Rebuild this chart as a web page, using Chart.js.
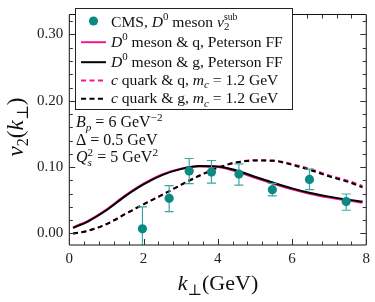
<!DOCTYPE html>
<html>
<head>
<meta charset="utf-8">
<script src="https://cdn.jsdelivr.net/npm/chart.js@4/dist/chart.umd.min.js"></script>
<style>
  html, body { margin: 0; padding: 0; background: #fff; }
  #wrap { width: 375px; height: 302px; }
</style>
</head>
<body>
<div id="wrap"><canvas id="c" width="375" height="302"></canvas></div>
<script>
// ---- data ----
const curveK = [0.1, 0.5, 1.0, 1.5, 2.0, 2.5, 3.0, 3.5, 4.0, 4.5, 5.0, 5.5, 6.0, 6.5, 7.0, 7.5, 7.9];
const d0QuarkPeterson = [0.0092, 0.019, 0.036, 0.057, 0.075, 0.089, 0.0975, 0.101, 0.1, 0.0935, 0.084, 0.075, 0.0665, 0.0595, 0.054, 0.0495, 0.0465];
const d0GluonPeterson = [0.0085, 0.018, 0.035, 0.056, 0.074, 0.088, 0.097, 0.1015, 0.101, 0.095, 0.0855, 0.0765, 0.068, 0.061, 0.0555, 0.051, 0.048];
const cQuarkQ = [0.0, 0.004, 0.014, 0.029, 0.044, 0.058, 0.073, 0.087, 0.099, 0.107, 0.1103, 0.11, 0.1045, 0.097, 0.0875, 0.0795, 0.0715];
const cQuarkG = [0.0, 0.004, 0.014, 0.029, 0.044, 0.058, 0.073, 0.087, 0.099, 0.107, 0.11, 0.1095, 0.1035, 0.0955, 0.086, 0.078, 0.0695];
const cmsK = [1.97, 2.69, 3.23, 3.83, 4.57, 5.47, 6.47, 7.46];
const cmsV2 = [0.007, 0.053, 0.094, 0.0925, 0.0895, 0.066, 0.0815, 0.048];
const cmsErrLo = [-0.03, 0.033, 0.075, 0.076, 0.073, 0.0565, 0.066, 0.035];
const cmsErrHi = [0.040, 0.072, 0.113, 0.110, 0.105, 0.0755, 0.097, 0.0595];
const xTicks = [0, 2, 4, 6, 8];
const yTicks = [0.0, 0.1, 0.2, 0.3];
const xMinorStep = 0.4;
const yMinorStep = 0.02;

const TEAL = '#0b8a84';
const TEAL_ERR = '#3aa8a2';
const PINK = '#f21a8c';
const FONT = '"Liberation Serif", "DejaVu Serif", serif';

function pts(xs, ys) { return xs.map((x, i) => ({ x: x, y: ys[i] })); }

// rich text helper: runs of {t, i:italic, s:'sup'|'sub', k:keep x (stack), sc:scale}
function drawRich(ctx, runs, x, y, size, align) {
  let total = 0;
  const items = runs.map(r => {
    const sc = r.sc || (r.s ? 0.7 : 1);
    const s = size * sc;
    const font = (r.i ? 'italic ' : '') + s.toFixed(2) + 'px ' + FONT;
    ctx.font = font;
    const w = ctx.measureText(r.t).width;
    const dy = r.s === 'sup' ? -size * 0.4 : (r.s === 'sub' ? size * 0.22 : 0);
    const adv = r.k ? 0 : w + (r.g || 0);
    total += adv;
    return { t: r.t, font, dy, adv };
  });
  let cx = align === 'center' ? x - total / 2 : (align === 'right' ? x - total : x);
  ctx.textAlign = 'left';
  ctx.textBaseline = 'alphabetic';
  for (const it of items) {
    ctx.font = it.font;
    ctx.fillText(it.t, cx, y + it.dy);
    cx += it.adv;
  }
}

const decorPlugin = {
  id: 'decor',
  beforeDatasetDraw(chart, args) {
    if (args.index !== 0) return;
    const ctx = chart.ctx, xs = chart.scales.x, ys = chart.scales.y, a = chart.chartArea;
    ctx.save();
    ctx.beginPath();
    ctx.rect(a.left, a.top, a.right - a.left, a.bottom - a.top);
    ctx.clip();
    ctx.strokeStyle = TEAL_ERR;
    ctx.lineWidth = 1.2;
    cmsK.forEach((k, i) => {
      const px = xs.getPixelForValue(k);
      const lo = ys.getPixelForValue(cmsErrLo[i]);
      const hi = ys.getPixelForValue(cmsErrHi[i]);
      ctx.beginPath();
      ctx.moveTo(px, lo); ctx.lineTo(px, hi);
      ctx.moveTo(px - 4.5, hi); ctx.lineTo(px + 4.5, hi);
      ctx.moveTo(px - 4.5, lo); ctx.lineTo(px + 4.5, lo);
      ctx.stroke();
    });
    ctx.restore();
  },
  afterDraw(chart) {
    const ctx = chart.ctx, xs = chart.scales.x, ys = chart.scales.y, a = chart.chartArea;
    ctx.save();
    // frame
    ctx.strokeStyle = '#111';
    ctx.lineWidth = 1;
    ctx.beginPath();
    ctx.moveTo(a.left, a.top - 0.5); ctx.lineTo(a.left, a.bottom);
    ctx.lineTo(a.right, a.bottom); ctx.lineTo(a.right, a.top - 0.5);
    ctx.moveTo(a.left, a.top - 0.5); ctx.lineTo(a.right, a.top - 0.5);
    ctx.stroke();
    // ticks (inward, all sides)
    ctx.strokeStyle = '#333';
    ctx.beginPath();
    for (let v = xs.min; v <= xs.max + 1e-9; v += xMinorStep) {
      const major = xTicks.some(t => Math.abs(t - v) < 1e-6);
      const L = major ? 6 : 3.5;
      const px = Math.round(xs.getPixelForValue(v)) + 0.5;
      ctx.moveTo(px, a.bottom); ctx.lineTo(px, a.bottom - L);
      ctx.moveTo(px, a.top); ctx.lineTo(px, a.top + L);
    }
    for (let v = 0; v <= ys.max + 1e-9; v += yMinorStep) {
      const major = yTicks.some(t => Math.abs(t - v) < 1e-6);
      const L = major ? 6 : 3.5;
      const py = Math.round(ys.getPixelForValue(v)) + 0.5;
      ctx.moveTo(a.left, py); ctx.lineTo(a.left + L, py);
      ctx.moveTo(a.right, py); ctx.lineTo(a.right - L, py);
    }
    ctx.stroke();

    // legend
    const lx = 75.5, ly = 8.5, lw = 217, lh = 101;
    ctx.fillStyle = '#fff';
    ctx.fillRect(lx, ly, lw, lh);
    ctx.strokeStyle = '#222';
    ctx.lineWidth = 1;
    ctx.strokeRect(lx, ly, lw, lh);
    const sx0 = 81, sx1 = 106, tx = 111;
    const base = [26.7, 46.7, 66.7, 85, 103.3];
    ctx.fillStyle = TEAL;
    ctx.beginPath(); ctx.arc((sx0 + sx1) / 2, 21, 4.6, 0, Math.PI * 2); ctx.fill();
    const samples = [
      { c: PINK, d: [] }, { c: '#000', d: [] }, { c: PINK, d: [5, 3.5] }, { c: '#000', d: [5, 3.5] }
    ];
    samples.forEach((s, i) => {
      ctx.strokeStyle = s.c; ctx.lineWidth = 2; ctx.setLineDash(s.d);
      const yy = base[i + 1] - 4.5;
      ctx.beginPath(); ctx.moveTo(sx0, yy); ctx.lineTo(sx1, yy); ctx.stroke();
    });
    ctx.setLineDash([]);
    ctx.fillStyle = '#111';
    const LS = 15.6;
    drawRich(ctx, [{ t: 'CMS, ' }, { t: 'D', i: 1 }, { t: '0', s: 'sup' }, { t: ' meson ' }, { t: 'v', i: 1 },
      { t: '2', s: 'sub', k: 1 }, { t: 'sub', s: 'sup', sc: 0.62 }], tx, base[0], LS, 'left');
    drawRich(ctx, [{ t: 'D', i: 1 }, { t: '0', s: 'sup' }, { t: ' meson & q, Peterson FF' }], tx, base[1], LS, 'left');
    drawRich(ctx, [{ t: 'D', i: 1 }, { t: '0', s: 'sup' }, { t: ' meson & g, Peterson FF' }], tx, base[2], LS, 'left');
    drawRich(ctx, [{ t: 'c', i: 1 }, { t: ' quark & q, ' }, { t: 'm', i: 1 }, { t: 'c', i: 1, s: 'sub' }, { t: ' = 1.2 GeV' }], tx, base[3], LS, 'left');
    drawRich(ctx, [{ t: 'c', i: 1 }, { t: ' quark & g, ' }, { t: 'm', i: 1 }, { t: 'c', i: 1, s: 'sub' }, { t: ' = 1.2 GeV' }], tx, base[4], LS, 'left');

    // parameter annotations
    const AS = 16;
    drawRich(ctx, [{ t: 'B', i: 1 }, { t: 'p', i: 1, s: 'sub' }, { t: ' = 6 GeV' }, { t: '\u22122', s: 'sup' }], 76, 127, AS, 'left');
    drawRich(ctx, [{ t: '\u0394 = 0.5 GeV' }], 76, 144.5, AS, 'left');
    drawRich(ctx, [{ t: 'Q', i: 1 }, { t: 's', i: 1, s: 'sub', k: 1 }, { t: '2', s: 'sup' }, { t: ' = 5 GeV' }, { t: '2', s: 'sup' }], 76, 162, AS, 'left');

    // axis titles
    ctx.fillStyle = '#111';
    drawRich(ctx, [{ t: 'k', i: 1 }, { t: '\u22a5', s: 'sub' }, { t: '(GeV)' }], 218, 290, 22, 'center');
    ctx.save();
    ctx.translate(23, 127);
    ctx.rotate(-Math.PI / 2);
    drawRich(ctx, [{ t: 'v', i: 1 }, { t: '2', s: 'sub' }, { t: '(' }, { t: 'k', i: 1 }, { t: '\u22a5', s: 'sub' }, { t: ')' }], 0, 0, 23, 'center');
    ctx.restore();
    ctx.restore();
  }
};

new Chart(document.getElementById('c'), {
  type: 'line',
  data: {
    datasets: [
      { label: 'CMS, D0 meson v2sub', data: pts(cmsK, cmsV2), showLine: false, pointRadius: 4.6,
        pointBackgroundColor: TEAL, pointBorderWidth: 0, backgroundColor: TEAL },
      { label: 'D0 meson & g, Peterson FF', data: pts(curveK, d0GluonPeterson), borderColor: '#000', borderWidth: 2,
        pointRadius: 0, cubicInterpolationMode: 'monotone', fill: false },
      { label: 'D0 meson & q, Peterson FF', data: pts(curveK, d0QuarkPeterson), borderColor: PINK, borderWidth: 2,
        pointRadius: 0, cubicInterpolationMode: 'monotone', fill: false },
      { label: 'c quark & g, mc = 1.2 GeV', data: pts(curveK, cQuarkG), borderColor: '#000', borderWidth: 2,
        borderDash: [5, 3.5], pointRadius: 0, cubicInterpolationMode: 'monotone', fill: false },
      { label: 'c quark & q, mc = 1.2 GeV', data: pts(curveK, cQuarkQ), borderColor: PINK, borderWidth: 2,
        borderDash: [5, 3.5], pointRadius: 0, cubicInterpolationMode: 'monotone', fill: false }
    ]
  },
  options: {
    responsive: false,
    animation: false,
    devicePixelRatio: 1,
    layout: { padding: { left: 0, right: 8.5, top: 0, bottom: 0 } },
    plugins: { legend: { display: false }, tooltip: { enabled: false }, title: { display: false } },
    scales: {
      x: {
        type: 'linear', min: 0, max: 8,
        afterBuildTicks: s => { s.ticks = xTicks.map(v => ({ value: v })); },
        afterFit: s => { s.height = 57; },
        grid: { display: false, drawTicks: false },
        border: { display: false },
        ticks: { padding: 5, color: '#222', font: { family: FONT, size: 15 }, maxRotation: 0, autoSkip: false,
          callback: v => String(v) }
      },
      y: {
        type: 'linear', min: -0.0174, max: 0.3293,
        afterBuildTicks: s => { s.ticks = yTicks.map(v => ({ value: v })); },
        afterFit: s => { s.width = 69.3; },
        grid: { display: false, drawTicks: false },
        border: { display: false },
        ticks: { padding: 6, color: '#222', font: { family: FONT, size: 15 }, autoSkip: false,
          callback: v => v.toFixed(2) }
      }
    }
  },
  plugins: [decorPlugin]
});
</script>
</body>
</html>
